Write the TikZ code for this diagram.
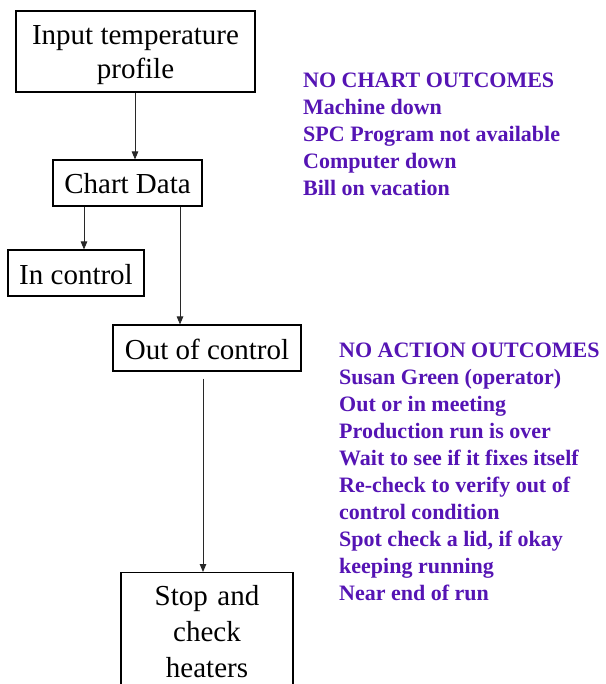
\documentclass[tikz,border=0pt]{standalone}
\usepackage{fontspec}
\setmainfont{Liberation Serif}
\usetikzlibrary{arrows.meta}
\definecolor{outcome}{RGB}{85,20,180}
\definecolor{lineink}{RGB}{40,40,40}
\begin{document}
\begin{tikzpicture}[x=1pt,y=-1pt,
  box/.style={draw, line width=1.1pt, rectangle, inner sep=0pt,
    font=\fontsize{29}{34}\selectfont, align=center},
  arr/.style={draw=lineink, line width=0.9pt, -{Triangle[length=8pt,width=6.5pt]}},
  note/.style={anchor=base west, text=outcome, inner sep=0pt, align=left,
    font=\fontsize{22}{27}\selectfont\bfseries}]
\path[use as bounding box] (0,0) rectangle (605,684);
\begin{scope}
\clip (0,0) rectangle (605,684);
\node[box, minimum width=239pt, minimum height=81pt, text height=55pt, text depth=0pt] (input) at (135.5,51.5) {Input temperature\\profile};
\node[box, minimum width=149pt, minimum height=46pt, text height=22pt, text depth=0pt] (chart) at (127.5,183) {Chart Data};
\node[box, minimum width=136pt, minimum height=46pt, text height=22pt, text depth=0pt] (inctl) at (76,273) {In control};
\node[box, minimum width=188pt, minimum height=46pt, text height=22pt, text depth=0pt] (outctl) at (207,348) {Out of control};
\node[box, anchor=north, minimum width=172pt, text width=170pt, inner ysep=13pt,
  font=\fontsize{29}{36}\selectfont] (stop) at (207,572) {Stop and\\check\\heaters};

\coordinate (xa) at (135,0);
\coordinate (xb) at (84,0);
\coordinate (xc) at (180,0);
\coordinate (xd) at (203,0);
\draw[arr] (input.south -| xa) -- (chart.north -| xa);
\draw[arr] (chart.south -| xb) -- (inctl.north -| xb);
\draw[arr] (chart.south -| xc) -- (outctl.north -| xc);
\draw[arr, shorten <=7pt] (outctl.south -| xd) -- (stop.north -| xd);

\node[note] (nochart) at (303,196) {NO CHART OUTCOMES\\Machine down\\SPC Program not available\\Computer down\\Bill on vacation};
\node[note] (noaction) at (339,600) {NO ACTION OUTCOMES\\Susan Green (operator)\\Out or in meeting\\Production run is over\\Wait to see if it fixes itself\\Re-check to verify out of\\control condition\\Spot check a lid, if okay\\keeping running\\Near end of run};
\end{scope}
\end{tikzpicture}
\end{document}
